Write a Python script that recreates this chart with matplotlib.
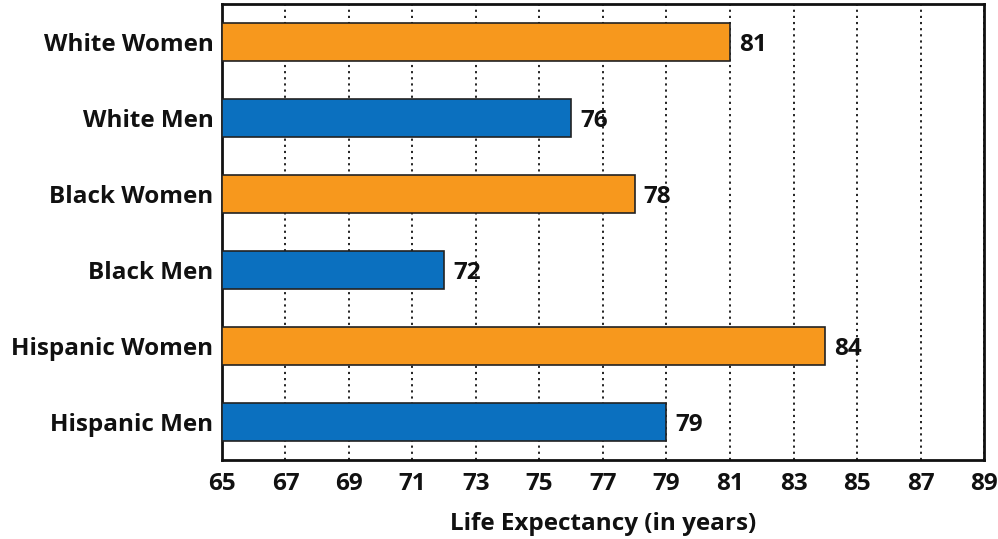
import matplotlib
matplotlib.use("Agg")
import matplotlib.pyplot as plt

groups = ["White Women", "White Men", "Black Women", "Black Men",
          "Hispanic Women", "Hispanic Men"]
life_expectancy = [81, 76, 78, 72, 84, 79]
bar_colors = ["#F7981D", "#0B70BF", "#F7981D", "#0B70BF", "#F7981D", "#0B70BF"]
x_ticks = list(range(65, 90, 2))

plt.rcParams['font.family'] = ['Open Sans', 'DejaVu Sans']
plt.rcParams['font.weight'] = 'bold'

fig = plt.figure(figsize=(9.98, 5.39), dpi=100)
ax = fig.add_axes([0.2224, 0.1466, 0.7636, 0.846])

ypos = list(range(len(groups)))
bars = ax.barh(ypos, [v - 65 for v in life_expectancy], left=65, height=0.49,
               color=bar_colors, edgecolor="#222222", linewidth=1.2, zorder=3)
for y, v in zip(ypos, life_expectancy):
    ax.text(v + 0.28, y, str(v), va="center_baseline", ha="left", fontsize=17.5,
            fontweight="bold", color="#111111")

ax.set_xlim(65, 89)
ax.set_ylim(len(groups) - 0.5, -0.5)
ax.set_xticks(x_ticks)
ax.set_yticks(ypos)
ax.set_yticklabels(groups)
ax.tick_params(axis="both", length=0, labelsize=17.5, colors="#111111")
ax.tick_params(axis="y", pad=6)
ax.tick_params(axis="x", pad=9)
ax.xaxis.grid(True, linestyle=(0, (1.2, 2.2)), color="#111111", linewidth=1.3, zorder=0)
for s in ax.spines.values():
    s.set_linewidth(2)
    s.set_color("#111111")
ax.set_xlabel("Life Expectancy (in years)", fontsize=17.5, labelpad=11,
              fontweight="bold", color="#111111")

fig.savefig("out.png", dpi=100)
